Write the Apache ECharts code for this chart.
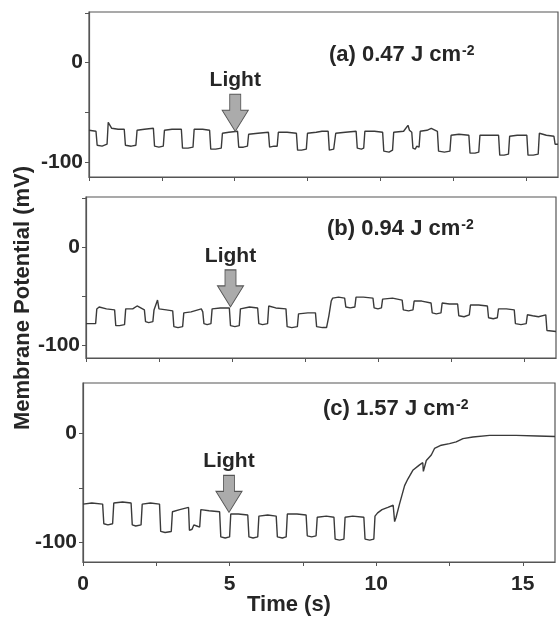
<!DOCTYPE html>
<html>
<head>
<meta charset="utf-8">
<title>Membrane Potential</title>
<script src="https://cdn.jsdelivr.net/npm/echarts@6/dist/echarts.min.js"></script>
<style>
  html, body { margin: 0; padding: 0; background: #fff; }
  #chart { width: 560px; height: 618px; }
</style>
</head>
<body>
<div id="chart"></div>
<script>
// (a) 0.47 J cm-2
const timeA = [0, 0.24, 0.28, 0.45, 0.62, 0.66, 0.72, 0.78, 1.0, 1.21, 1.25, 1.45, 1.61, 1.65, 1.9, 2.21, 2.25, 2.4, 2.55, 2.59,
  2.85, 3.17, 3.21, 3.4, 3.57, 3.61, 3.9, 4.14, 4.18, 4.35, 4.54, 4.58, 4.8, 5.1, 5.14, 5.3, 5.44, 5.48, 5.8, 6.16,
  6.2, 6.35, 6.46, 6.5, 6.8, 7.12, 7.16, 7.3, 7.46, 7.5, 7.8, 8.0, 8.21, 8.25, 8.4, 8.43, 8.47, 8.8, 9.17, 9.21,
  9.35, 9.43, 9.47, 9.8, 10.08, 10.12, 10.3, 10.42, 10.46, 10.8, 10.95, 11.0, 11.08, 11.12, 11.2, 11.25, 11.33, 11.37, 11.6, 11.75,
  11.96, 12.0, 12.2, 12.39, 12.43, 12.7, 13.04, 13.08, 13.25, 13.38, 13.42, 13.7, 14.06, 14.1, 14.25, 14.4, 14.44, 14.7, 15.03, 15.07,
  15.25, 15.42, 15.46, 15.7, 15.96, 16.0, 16.1];
const mvA = [-68, -69, -83, -84, -82, -60, -58, -66, -67, -67, -83, -84, -83, -68, -67, -66, -84, -85, -84, -68,
  -67, -67, -86, -86, -85, -67, -67, -68, -87, -87, -86, -71, -70, -69, -85, -85, -84, -72, -71, -70,
  -85, -84, -84, -70, -70, -71, -88, -88, -87, -71, -70, -69, -69, -88, -87, -87, -71, -70, -69, -86,
  -87, -86, -69, -69, -70, -89, -90, -88, -70, -69, -63, -68, -70, -86, -87, -84, -85, -69, -68, -66,
  -69, -89, -90, -89, -73, -72, -73, -91, -91, -90, -73, -73, -73, -93, -93, -92, -74, -73, -73, -93,
  -93, -92, -71, -73, -74, -82, -82];

// (b) 0.94 J cm-2
const timeB = [0, 0.33, 0.37, 0.45, 0.7, 0.98, 1.02, 1.15, 1.32, 1.36, 1.6, 1.75, 2.0, 2.04, 2.15, 2.29, 2.33, 2.45, 2.5, 2.75,
  2.97, 3.01, 3.15, 3.31, 3.35, 3.6, 3.95, 4.0, 4.04, 4.15, 4.28, 4.32, 4.6, 4.91, 4.95, 5.1, 5.25, 5.29, 5.6, 5.88,
  5.92, 6.05, 6.22, 6.26, 6.5, 6.85, 6.89, 7.05, 7.24, 7.28, 7.6, 7.86, 7.9, 8.1, 8.24, 8.32, 8.4, 8.45, 8.65, 8.86,
  8.9, 9.05, 9.21, 9.25, 9.5, 9.83, 9.87, 10.0, 10.12, 10.16, 10.5, 10.83, 10.87, 11.05, 11.2, 11.24, 11.5, 11.82, 11.86, 12.0,
  12.16, 12.2, 12.45, 12.73, 12.77, 12.95, 13.13, 13.17, 13.45, 13.75, 13.79, 13.95, 14.09, 14.13, 14.4, 14.67, 14.71, 14.9, 15.08, 15.12,
  15.3, 15.5, 15.75, 15.79, 16.1];
const mvB = [-78, -78, -63, -61, -63, -64, -80, -80, -79, -63, -63, -60, -64, -76, -77, -76, -64, -54, -63, -64,
  -65, -81, -82, -81, -67, -66, -63, -66, -78, -79, -78, -63, -62, -62, -80, -81, -80, -63, -61, -62,
  -78, -79, -78, -60, -62, -63, -81, -82, -81, -68, -67, -67, -81, -82, -82, -70, -55, -52, -51, -52,
  -61, -62, -61, -51, -51, -52, -62, -63, -62, -53, -52, -54, -64, -65, -64, -55, -55, -57, -67, -68,
  -67, -57, -58, -58, -70, -71, -69, -59, -59, -60, -72, -73, -72, -63, -63, -64, -78, -79, -78, -69,
  -70, -71, -69, -85, -86];

// (c) 1.57 J cm-2
const timeC = [0, 0.3, 0.67, 0.71, 0.85, 1.01, 1.05, 1.35, 1.64, 1.68, 1.8, 1.98, 2.02, 2.3, 2.61, 2.65, 2.8, 3.01, 3.05, 3.3,
  3.6, 3.63, 3.72, 3.78, 3.88, 3.98, 4.02, 4.3, 4.66, 4.7, 4.85, 5.0, 5.04, 5.3, 5.62, 5.66, 5.8, 5.96, 6.0, 6.3,
  6.59, 6.63, 6.8, 6.93, 6.97, 7.3, 7.61, 7.65, 7.8, 7.95, 7.99, 8.3, 8.56, 8.6, 8.75, 8.9, 8.94, 9.2, 9.58, 9.62,
  9.78, 9.92, 9.96, 10.05, 10.2, 10.4, 10.58, 10.63, 10.68, 10.8, 10.97, 11.08, 11.25, 11.48, 11.59, 11.61, 11.71, 11.88, 11.99, 12.22,
  12.5, 12.73, 12.96, 13.3, 13.87, 14.78, 15.5, 16.1];
const mvC = [-65, -64, -65, -83, -84, -83, -64, -63, -64, -84, -85, -84, -65, -64, -65, -90, -91, -90, -72, -70,
  -68, -89, -88, -84, -85, -86, -70, -71, -72, -95, -96, -95, -74, -74, -75, -95, -96, -95, -76, -75,
  -76, -95, -96, -95, -74, -74, -75, -94, -95, -94, -77, -76, -77, -97, -98, -97, -77, -76, -77, -97,
  -98, -97, -76, -73, -70, -68, -66, -81, -77, -64.5, -48, -42, -34, -29, -27, -35, -25, -20, -14, -11,
  -9.5, -8, -5, -3.5, -2, -2, -2.5, -3];

const panelTitles = ['(a) 0.47 J cm', '(b) 0.94 J cm', '(c) 1.57 J cm'];
const unitExp = '-2';
const xTicks = [0, 2.5, 5, 7.5, 10, 12.5, 15];
const xLabels = [0, 5, 10, 15];
const yTicks = [-100, -50, 0, 50];
const yLabels = [-100, 0];
// where the "Light" arrow points (s, mV)
const lightTime = [5.02, 4.95, 4.98];
const lightMv = [-69, -61, -72.5];

const FONT = '"Liberation Sans", Arial, sans-serif';
const AXIS_COLOR = '#555';
const TEXT_COLOR = '#262626';

const grids = [
  {left: 89, top: 12, width: 469, height: 165},
  {left: 86, top: 197, width: 470, height: 161},
  {left: 83, top: 383, width: 472, height: 179}
];
const yRange = [[-115, 51], [-113, 51], [-118, 46]];
const titlePos = [[329, 44], [327, 218], [323, 398]];

function zip(ts, vs) {
  return ts.map((t, i) => [t, vs[i]]);
}
const traces = [zip(timeA, mvA), zip(timeB, mvB), zip(timeC, mvC)];

const chart = echarts.init(document.getElementById('chart'));

const option = {
  animation: false,
  backgroundColor: '#fff',
  grid: grids.map(g => Object.assign({
    show: true,
    borderColor: AXIS_COLOR,
    borderWidth: 1.2,
    backgroundColor: 'transparent',
    outerBoundsMode: 'none'
  }, g)),
  xAxis: grids.map((g, i) => ({
    type: 'value',
    gridIndex: i,
    min: 0,
    max: 16.1,
    axisLine: {show: true, onZero: false, lineStyle: {color: AXIS_COLOR, width: 1.2}},
    axisTick: {show: true, length: 4, customValues: xTicks, lineStyle: {color: AXIS_COLOR}},
    axisLabel: {
      show: i === 2,
      customValues: xLabels,
      margin: 12,
      fontSize: 21,
      fontWeight: 'bold',
      fontFamily: FONT,
      color: TEXT_COLOR
    },
    splitLine: {show: false}
  })),
  yAxis: grids.map((g, i) => ({
    type: 'value',
    gridIndex: i,
    min: yRange[i][0],
    max: yRange[i][1],
    axisLine: {show: true, onZero: false, lineStyle: {color: AXIS_COLOR, width: 1.2}},
    axisTick: {show: true, length: 4, customValues: yTicks, lineStyle: {color: AXIS_COLOR}},
    axisLabel: {
      customValues: yLabels,
      margin: 6,
      fontSize: 21,
      fontWeight: 'bold',
      fontFamily: FONT,
      color: TEXT_COLOR
    },
    splitLine: {show: false}
  })),
  title: titlePos.map((p, i) => ({
    left: p[0],
    top: p[1],
    padding: 0,
    text: '{t|' + panelTitles[i] + '}{s|' + unitExp + '}',
    textStyle: {
      rich: {
        t: {fontSize: 22, fontWeight: 'bold', fontFamily: FONT, color: TEXT_COLOR, lineHeight: 22, verticalAlign: 'bottom'},
        s: {fontSize: 14, fontWeight: 'bold', fontFamily: FONT, color: TEXT_COLOR, verticalAlign: 'top', padding: [0, 0, 0, 1]}
      }
    }
  })).concat([{
    left: 247,
    top: 594,
    padding: 0,
    text: 'Time (s)',
    textStyle: {fontSize: 22, fontWeight: 'bold', fontFamily: FONT, color: TEXT_COLOR}
  }]),
  graphic: [{
    type: 'text',
    x: 23,
    y: 298,
    rotation: Math.PI / 2,
    style: {
      text: 'Membrane Potential (mV)',
      fontSize: 22,
      fontWeight: 'bold',
      fontFamily: FONT,
      fill: TEXT_COLOR,
      align: 'center',
      verticalAlign: 'middle'
    }
  }],
  series: traces.map((d, i) => ({
    type: 'line',
    xAxisIndex: i,
    yAxisIndex: i,
    data: d,
    showSymbol: false,
    symbol: 'none',
    lineStyle: {color: '#3a3a3a', width: 1.4},
    markPoint: {
      symbol: 'path://M7.5,0 L18.5,0 L18.5,16 L26,16 L13,37 L0,16 L7.5,16 Z',
      symbolSize: [26, 37],
      symbolOffset: [0, -18.5],
      itemStyle: {color: '#ababab', borderColor: '#555', borderWidth: 1},
      label: {
        show: true,
        position: 'top',
        distance: 3,
        formatter: 'Light',
        fontSize: 21,
        fontWeight: 'bold',
        fontFamily: FONT,
        color: TEXT_COLOR
      },
      data: [{coord: [lightTime[i], lightMv[i]]}]
    }
  }))
};

chart.setOption(option);
</script>
</body>
</html>
